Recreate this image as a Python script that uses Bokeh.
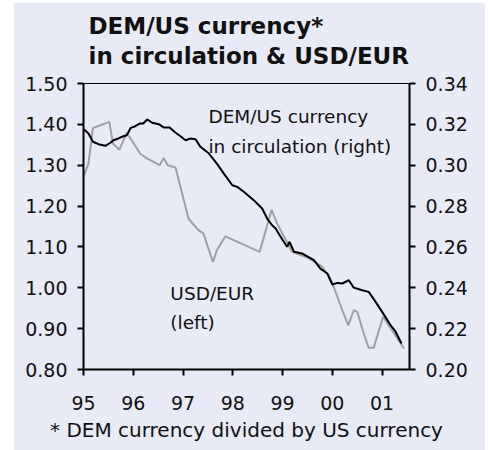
from bokeh.plotting import figure
from bokeh.models import Range1d, LinearAxis, FixedTicker, Label, Title
from bokeh.embed import file_html
from bokeh.resources import INLINE

# USD/EUR (left axis), decimal years
usd_x = [1995.01, 1995.10, 1995.19, 1995.52, 1995.59, 1995.72, 1995.87, 1996.01, 1996.14,
         1996.28, 1996.53, 1996.61, 1996.69, 1996.85, 1997.11, 1997.31, 1997.41, 1997.60,
         1997.68, 1997.85, 1998.54, 1998.78, 1998.89, 1999.19, 1999.46, 1999.60, 1999.80,
         1999.93, 2000.03, 2000.20, 2000.32, 2000.43, 2000.50, 2000.63, 2000.73, 2000.83,
         2001.02, 2001.24, 2001.44]
usd_y = [1.275, 1.304, 1.391, 1.406, 1.353, 1.338, 1.379, 1.353, 1.328,
         1.316, 1.300, 1.318, 1.300, 1.294, 1.169, 1.141, 1.133, 1.063,
         1.092, 1.126, 1.088, 1.191, 1.157, 1.088, 1.076, 1.067, 1.051,
         1.027, 1.002, 0.945, 0.908, 0.945, 0.941, 0.888, 0.853, 0.853,
         0.929, 0.888, 0.851]

# DEM/US currency in circulation (right axis)
dem_x = [1995.01, 1995.10, 1995.19, 1995.30, 1995.44, 1995.54, 1995.60, 1995.70, 1995.77,
         1995.87, 1995.95, 1996.04, 1996.13, 1996.20, 1996.28, 1996.38, 1996.51, 1996.61,
         1996.73, 1996.85, 1996.95, 1997.05, 1997.15, 1997.25, 1997.35, 1997.52, 1997.68,
         1997.82, 1997.99, 1998.09, 1998.22, 1998.42, 1998.59, 1998.69, 1998.79, 1998.86,
         1998.96, 1999.09, 1999.14, 1999.23, 1999.39, 1999.46, 1999.63, 1999.76, 1999.90,
         2000.00, 2000.10, 2000.20, 2000.33, 2000.43, 2000.60, 2000.73, 2000.87, 2001.00,
         2001.17, 2001.27, 2001.39]
dem_y = [0.3175, 0.3155, 0.3115, 0.3103, 0.3095, 0.3110, 0.3122, 0.3131, 0.3139,
         0.3147, 0.3183, 0.3191, 0.3204, 0.3204, 0.3224, 0.3208, 0.3201, 0.3185,
         0.3185, 0.3159, 0.3142, 0.3122, 0.3131, 0.3127, 0.3090, 0.3057, 0.3008,
         0.2959, 0.2902, 0.2894, 0.2870, 0.2829, 0.2788, 0.2739, 0.2706, 0.2690,
         0.2650, 0.2601, 0.2625, 0.2576, 0.2568, 0.2559, 0.2535, 0.2494, 0.2470,
         0.2416, 0.2424, 0.2421, 0.2437, 0.2401, 0.2388, 0.2380, 0.2331, 0.2282,
         0.2217, 0.2185, 0.2127]

x_ticks = [1995, 1996, 1997, 1998, 1999, 2000, 2001]
x_tick_labels = ["95", "96", "97", "98", "99", "00", "01"]
left_ticks = [0.8, 0.9, 1.0, 1.1, 1.2, 1.3, 1.4, 1.5]
right_ticks = [0.20, 0.22, 0.24, 0.26, 0.28, 0.30, 0.32, 0.34]

BG = "#E8EAF6"
FONT = "DejaVu Sans"
INK = "#111111"

p = figure(width=472, height=448, output_backend="svg", toolbar_location=None,
           x_range=Range1d(1995, 2001.55), y_range=Range1d(0.8, 1.5),
           min_border_left=70, min_border_right=76, min_border_top=81, min_border_bottom=81,
           margin=(2, 0, 0, 13))
p.extra_y_ranges = {"right": Range1d(0.20, 0.34)}
p.background_fill_color = BG
p.border_fill_color = BG
p.outline_line_color = "#000000"
p.outline_line_width = 1
p.xgrid.visible = False
p.ygrid.visible = False

def style_axis(ax):
    ax.axis_line_width = 2
    ax.axis_line_color = "#000000"
    ax.major_tick_line_width = 2
    ax.major_tick_line_color = "#000000"
    ax.major_tick_out = 6
    ax.major_tick_in = 0
    ax.minor_tick_line_color = None
    ax.major_label_text_font = FONT
    ax.major_label_text_font_size = "19px"
    ax.major_label_text_color = INK

xa = p.xaxis[0]
xa.ticker = FixedTicker(ticks=x_ticks)
xa.major_label_overrides = {t: l for t, l in zip(x_ticks, x_tick_labels)}
style_axis(xa)
xa.major_label_standoff = 20

ya = p.yaxis[0]
ya.ticker = FixedTicker(ticks=left_ticks)
ya.major_label_overrides = {t: f"{t:.2f}" for t in left_ticks}
style_axis(ya)
ya.major_label_standoff = 10

ra = LinearAxis(y_range_name="right", ticker=FixedTicker(ticks=right_ticks))
ra.major_label_overrides = {t: f"{t:.2f}" for t in right_ticks}
style_axis(ra)
ra.major_label_standoff = 10
p.add_layout(ra, "right")

p.line(usd_x, usd_y, line_color="#A0A0A0", line_width=2)
p.line(dem_x, dem_y, line_color="#000000", line_width=2, y_range_name="right")

def lab(x, y, text, size):
    p.add_layout(Label(x=x, y=y, text=text, text_font=FONT, text_font_size=size,
                       text_color=INK, text_baseline="alphabetic", text_align="left"))

lab(1997.51, 1.4186, "DEM/US currency", "18.5px")
lab(1997.51, 1.345, "in circulation (right)", "18.5px")
lab(1996.745, 0.986, "USD/EUR", "18.5px")
lab(1996.745, 0.915, "(left)", "18.5px")

def title(text, size, bold, align, offset, standoff):
    return Title(text=text, text_font=FONT, text_font_size=size,
                 text_font_style="bold" if bold else "normal", text_color=INK,
                 align=align, offset=offset, standoff=standoff)

p.add_layout(title("in circulation & USD/EUR", "23px", True, "left", 5, 29.2), "above")
p.add_layout(title("DEM/US currency*", "23px", True, "left", 5, -24.8), "above")
p.add_layout(title("* DEM currency divided by US currency", "20px", False, "center", 0, 7), "below")

open("out.html", "w").write(file_html(p, INLINE))
